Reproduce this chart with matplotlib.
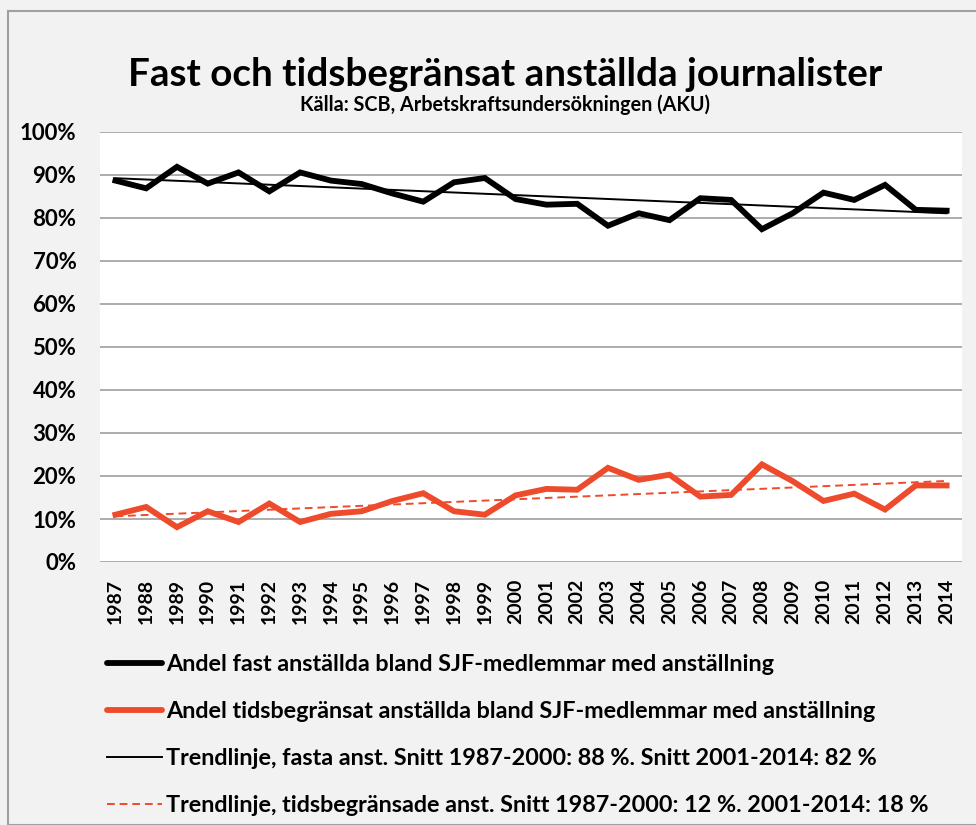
import numpy as np
import matplotlib
matplotlib.use("Agg")
import matplotlib.pyplot as plt
from matplotlib.patches import Rectangle
from matplotlib.lines import Line2D

# -------------------------------- DONNEES ------------------------------------------------
years = list(range(1987, 2015))
fast = [88.7, 86.9, 91.9, 88.0, 90.6, 86.2, 90.6, 88.7, 87.9, 85.7, 83.8, 88.3, 89.3, 84.4,
        83.1, 83.3, 78.2, 81.1, 79.5, 84.6, 84.2, 77.4, 81.1, 85.9, 84.2, 87.7, 81.9, 81.7]
tids = [11.0, 12.8, 8.1, 11.8, 9.3, 13.6, 9.3, 11.2, 11.8, 14.2, 16.0, 11.8, 11.0, 15.5,
        17.0, 16.8, 21.9, 19.1, 20.3, 15.2, 15.6, 22.7, 18.8, 14.2, 15.9, 12.2, 17.8, 17.8]

title = "Fast och tidsbegränsat anställda journalister"
subtitle = "Källa: SCB, Arbetskraftsundersökningen (AKU)"
labels = ["Andel fast anställda bland SJF-medlemmar med anställning",
          "Andel tidsbegränsat anställda bland SJF-medlemmar med anställning",
          "Trendlinje, fasta anst. Snitt 1987-2000: 88 %. Snitt 2001-2014: 82 %",
          "Trendlinje, tidsbegränsade anst. Snitt 1987-2000: 12 %. 2001-2014: 18 %"]

plt.rcParams['font.family'] = ['Lato', 'DejaVu Sans']
plt.rcParams['font.weight'] = 'bold'

W, H = 976, 825
bg = '#f2f2f2'
red = '#ee4a2c'

fig = plt.figure(figsize=(W / 100, H / 100), dpi=100, facecolor=bg)
# cadre du graphique
fig.patches.append(Rectangle((7.5 / W, 0), 1.0, 1 - 10.5 / H, transform=fig.transFigure,
                             facecolor='none', edgecolor='#a0a0a0', lw=1.5))

ax = fig.add_axes([100 / W, (H - 562) / H, 862 / W, 430 / H])
ax.set_facecolor('white')

x = np.arange(len(years))
ax.plot(x, fast, color='black', lw=4.2, solid_joinstyle='miter', zorder=3)
ax.plot(x, tids, color=red, lw=4.2, solid_joinstyle='miter', zorder=3)

# lignes de tendance (regression lineaire comme Excel)
pf = np.polyfit(x, fast, 1)
pt = np.polyfit(x, tids, 1)
ax.plot(x, np.polyval(pf, x), color='black', lw=1.4, zorder=4)
ax.plot(x, np.polyval(pt, x), color=red, lw=1.4, ls=(0, (4, 2.5)), zorder=4)

ax.set_xlim(-0.5, len(years) - 0.5)
ax.set_ylim(0, 100)
ax.set_yticks(range(0, 101, 10))
ax.set_yticklabels([f"{v}%" for v in range(0, 101, 10)], fontsize=16, fontweight='bold')
ax.set_xticks(x)
ax.set_xticklabels([str(y) for y in years], rotation=90, fontsize=14, fontweight='bold')
ax.tick_params(axis='both', length=0)
ax.tick_params(axis='y', pad=17)
ax.tick_params(axis='x', pad=12)
ax.grid(axis='y', color='#a6a6a6', lw=1.3)
ax.set_axisbelow(True)
for s in ax.spines.values():
    s.set_visible(False)

fig.text(505 / W, 1 - 74 / H, title, ha='center', va='center', fontsize=27.8, fontweight='bold')
fig.text(505 / W, 1 - 105 / H, subtitle, ha='center', va='center', fontsize=14.2, fontweight='bold')

handles = [Line2D([], [], color='black', lw=4.2, solid_capstyle='round'),
           Line2D([], [], color=red, lw=4.2, solid_capstyle='round'),
           Line2D([], [], color='black', lw=1.4),
           Line2D([], [], color=red, lw=1.4, ls=(0, (4, 2.5)))]
leg = fig.legend(handles, labels, loc='upper left', bbox_to_anchor=(107 / W, 1 - 654 / H),
                 frameon=False, fontsize=16.8, handlelength=2.35, handletextpad=0.18,
                 labelspacing=1.11, borderaxespad=0, borderpad=0)
for t in leg.get_texts():
    t.set_fontweight('bold')

plt.savefig("out.png", dpi=100, facecolor=bg)
